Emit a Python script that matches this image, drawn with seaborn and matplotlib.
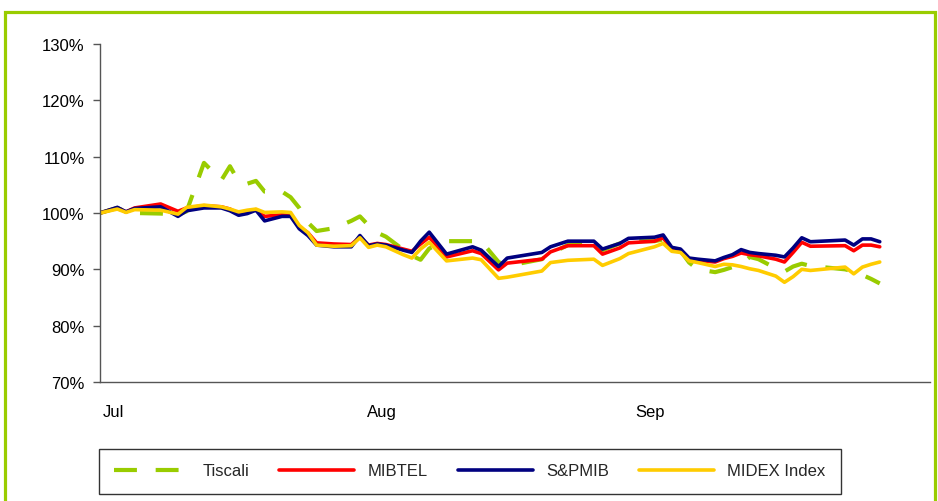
import numpy as np
import pandas as pd
import matplotlib
matplotlib.use("Agg")
import matplotlib.pyplot as plt
import matplotlib.dates as mdates
import matplotlib.transforms as mtransforms
from matplotlib.patches import Rectangle
from matplotlib.ticker import FuncFormatter
import seaborn as sns

# trading days, counted from 1 July
days = [0, 2, 3, 4, 7, 9, 10, 12, 14, 15, 16, 17, 18, 19, 21, 22, 23, 24, 25, 27,
        29, 30, 31, 32, 33, 35, 36, 37, 38, 40, 43, 44, 46, 47, 51, 52, 54, 57, 58, 60,
        61, 64, 65, 66, 67, 68, 69, 71, 72, 73, 74, 75, 76, 78, 79, 80, 81, 82, 86, 87,
        88, 89, 90]

tiscali = [100.0, 100.9, 100.2, 100.0, 99.9, 99.7, 100.3, 108.9, 105.8, 108.3,
           105.6, 105.2, 105.7, 103.8, 103.8, 102.8, 100.9, 98.3, 96.8, 97.3,
           98.6, 99.4, 97.8, 96.5, 95.8, 93.5, 92.4, 91.7, 93.7, 95.0,
           95.0, 95.0, 91.3, 90.6, 91.8, 92.8, 94.3, 94.4, 93.4, 94.6,
           95.0, 95.0, 95.3, 93.6, 93.3, 91.2, 90.0, 89.5, 89.9, 90.4,
           90.9, 92.2, 91.8, 90.2, 89.6, 90.5, 91.0, 90.6, 90.0, 89.6,
           89.0, 88.3, 87.5]

mibtel = [100.0, 100.9, 100.2, 100.9, 101.6, 100.3, 100.9, 101.3, 101.1, 100.7,
          99.9, 100.3, 100.6, 99.4, 99.7, 99.6, 97.5, 96.5, 94.7, 94.5,
          94.4, 95.7, 94.3, 94.6, 94.4, 93.6, 93.2, 94.5, 95.7, 92.2,
          93.3, 92.8, 89.9, 91.1, 91.8, 93.1, 94.2, 94.2, 92.7, 93.8,
          94.7, 95.0, 95.6, 93.5, 93.3, 91.7, 91.6, 91.3, 91.9, 92.3,
          92.9, 92.6, 92.4, 91.8, 91.3, 93.0, 94.8, 94.1, 94.2, 93.3,
          94.3, 94.3, 94.0]

spmib = [100.0, 101.0, 100.2, 100.8, 101.1, 99.4, 100.4, 100.9, 100.9, 100.4,
         99.6, 99.9, 100.5, 98.6, 99.4, 99.4, 97.2, 96.0, 94.3, 94.0,
         94.0, 96.0, 94.2, 94.5, 94.3, 93.4, 93.0, 95.0, 96.6, 92.7,
         94.0, 93.4, 90.5, 92.0, 93.0, 94.0, 95.0, 95.0, 93.6, 94.6,
         95.5, 95.7, 96.1, 93.9, 93.6, 92.0, 91.8, 91.5, 92.1, 92.6,
         93.5, 93.0, 92.8, 92.5, 92.2, 93.8, 95.6, 94.9, 95.2, 94.3,
         95.4, 95.4, 94.9]

midex = [100.0, 100.7, 100.1, 100.6, 100.5, 99.8, 101.0, 101.4, 101.1, 100.7,
         100.2, 100.5, 100.7, 100.1, 100.2, 100.1, 97.8, 96.5, 94.3, 94.1,
         94.2, 95.6, 93.9, 94.3, 94.0, 92.6, 92.0, 93.6, 94.8, 91.5,
         92.0, 91.7, 88.4, 88.6, 89.7, 91.2, 91.6, 91.8, 90.7, 91.9,
         92.8, 94.0, 94.6, 93.2, 93.0, 91.5, 91.2, 90.5, 90.9, 90.8,
         90.5, 90.1, 89.8, 88.8, 87.7, 88.7, 90.0, 89.8, 90.4, 89.2,
         90.4, 90.9, 91.3]

names = ["Tiscali", "MIBTEL", "S&PMIB", "MIDEX Index"]
colors = ["#99CC00", "#FF0000", "#000080", "#FFCC00"]
month_ticks = ["2005-07-01", "2005-08-01", "2005-09-01"]

start = pd.Timestamp("2005-07-01")
dates = start + pd.to_timedelta(days, unit="D")
df = pd.DataFrame({"date": dates, "Tiscali": tiscali, "MIBTEL": mibtel,
                   "S&PMIB": spmib, "MIDEX Index": midex})

sns.set_style("white")
plt.rcParams["font.family"] = ["Liberation Sans", "DejaVu Sans"]

fig = plt.figure(figsize=(9.38, 5.02), dpi=100)
ax = fig.add_axes([100 / 938, (502 - 383) / 502, 830 / 938, 338 / 502])

for name, col in zip(names, colors):
    if name == "Tiscali":
        sns.lineplot(data=df, x="date", y=name, ax=ax, color=col, lw=3,
                     label=name)
        ax.lines[-1].set_dashes((5.5, 4.5))
    else:
        sns.lineplot(data=df, x="date", y=name, ax=ax, color=col, lw=2.6,
                     label=name)

ax.set_ylim(70, 130)
ax.set_yticks(np.arange(70, 131, 10))
ax.yaxis.set_major_formatter(FuncFormatter(lambda v, p: f"{v:.0f}%"))
ax.set_xlim(start, start + pd.Timedelta(days=95.8))
ax.set_xticks(pd.to_datetime(month_ticks))
ax.xaxis.set_major_formatter(mdates.DateFormatter("%b"))
ax.set_xlabel("")
ax.set_ylabel("")

for s in ["top", "right"]:
    ax.spines[s].set_visible(False)
for s in ["left", "bottom"]:
    ax.spines[s].set_color("#555555")
    ax.spines[s].set_linewidth(1)
ax.tick_params(axis="y", left=True, length=5, width=1, color="#555555",
               labelsize=12, pad=6, labelcolor="black")
ax.tick_params(axis="x", bottom=False, length=0, labelsize=12, pad=16,
               labelcolor="black")
shift = mtransforms.ScaledTranslation(13 / 100, 0, fig.dpi_scale_trans)
for lab in ax.get_xticklabels():
    lab.set_transform(lab.get_transform() + shift)

leg = ax.legend(loc="center", bbox_to_anchor=(470 / 938, 30 / 502),
                bbox_transform=fig.transFigure, ncol=4, frameon=True,
                fancybox=False, fontsize=12, handlelength=4.5,
                handletextpad=0.8, columnspacing=1.8, borderpad=0.9)
leg.get_frame().set_edgecolor("black")
leg.get_frame().set_linewidth(1)

fig.add_artist(Rectangle((4.5 / 938, -0.1), 930.5 / 938, (502 - 12.5) / 502 + 0.1,
                         transform=fig.transFigure, fill=False,
                         edgecolor="#99CC00", lw=2.3))

fig.savefig("out.png", dpi=100)
